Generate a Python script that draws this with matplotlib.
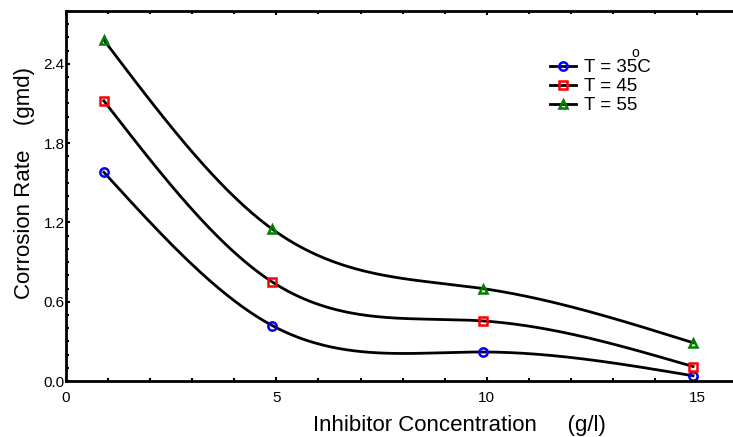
import numpy as np
import matplotlib.pyplot as plt
from matplotlib.lines import Line2D
from matplotlib.ticker import MultipleLocator

plt.rcParams['font.family'] = ['Liberation Sans', 'DejaVu Sans']

# Inhibitor concentration (g/l)
conc = [0.9, 4.9, 9.9, 14.9]
# Corrosion rate (gmd) for each temperature
rate_35 = [1.58, 0.42, 0.22, 0.04]
rate_45 = [2.12, 0.75, 0.455, 0.11]
rate_55 = [2.58, 1.15, 0.70, 0.29]

labels = ['T = 35C', 'T = 45', 'T = 55']
markers = ['o', 's', '^']
colors = ['blue', 'red', 'green']


def natural_spline(x, y, xs):
    """Natural cubic spline through (x, y), evaluated at xs."""
    x = np.asarray(x, float)
    y = np.asarray(y, float)
    n = len(x)
    h = np.diff(x)
    A = np.zeros((n, n))
    b = np.zeros(n)
    A[0, 0] = A[-1, -1] = 1
    for i in range(1, n - 1):
        A[i, i - 1] = h[i - 1]
        A[i, i] = 2 * (h[i - 1] + h[i])
        A[i, i + 1] = h[i]
        b[i] = 6 * ((y[i + 1] - y[i]) / h[i] - (y[i] - y[i - 1]) / h[i - 1])
    M = np.linalg.solve(A, b)
    idx = np.clip(np.searchsorted(x, xs) - 1, 0, n - 2)
    x0, x1 = x[idx], x[idx + 1]
    hh = x1 - x0
    t0, t1 = x1 - xs, xs - x0
    return (M[idx] * t0 ** 3 / (6 * hh) + M[idx + 1] * t1 ** 3 / (6 * hh)
            + (y[idx] / hh - M[idx] * hh / 6) * t0
            + (y[idx + 1] / hh - M[idx + 1] * hh / 6) * t1)


fig = plt.figure(figsize=(7.33, 4.37), dpi=100)
ax = fig.add_axes([0.090, 0.128, 0.91, 0.847])

handles = []
for ys, m, c, lab in zip([rate_35, rate_45, rate_55], markers, colors, labels):
    xs = np.linspace(conc[0], conc[-1], 300)
    ax.plot(xs, natural_spline(conc, ys, xs), color='black', lw=2)
    ax.plot(conc, ys, linestyle='none', marker=m, ms=6, mfc='none',
            mec=c, mew=1.8)
    handles.append(Line2D([], [], color='black', lw=2, marker=m, ms=6,
                          mfc='none', mec=c, mew=1.8, label=lab))

ax.set_xlim(0, 15.85)
ax.set_ylim(0, 2.8)
ax.xaxis.set_major_locator(MultipleLocator(5))
ax.xaxis.set_minor_locator(MultipleLocator(1))
ax.yaxis.set_major_locator(MultipleLocator(0.6))
ax.yaxis.set_minor_locator(MultipleLocator(0.1))
ax.yaxis.set_major_formatter(plt.FormatStrFormatter('%.1f'))
ax.tick_params(which='both', direction='in', top=True, labelsize=11,
               width=1.5)
ax.tick_params(axis='x', pad=7)
ax.tick_params(axis='y', pad=1)
ax.tick_params(which='major', length=3)
ax.tick_params(which='minor', length=2)
for s in ['left', 'bottom', 'top']:
    ax.spines[s].set_linewidth(2)
ax.spines['right'].set_visible(False)

ax.set_xlabel('Inhibitor Concentration     (g/l)', fontsize=16)
ax.set_ylabel('Corrosion Rate    (gmd)', fontsize=16)
ax.xaxis.set_label_coords(0.59, -0.093)
ax.yaxis.set_label_coords(-0.046, 0.535)

ax.legend(handles=handles, loc='upper left', bbox_to_anchor=(0.70, 0.915),
          frameon=False, fontsize=13.5, handlelength=1.4, handletextpad=0.4,
          labelspacing=0.1)
ax.text(0.848, 0.876, 'o', transform=ax.transAxes, fontsize=10)

fig.savefig('out.png', dpi=100)
